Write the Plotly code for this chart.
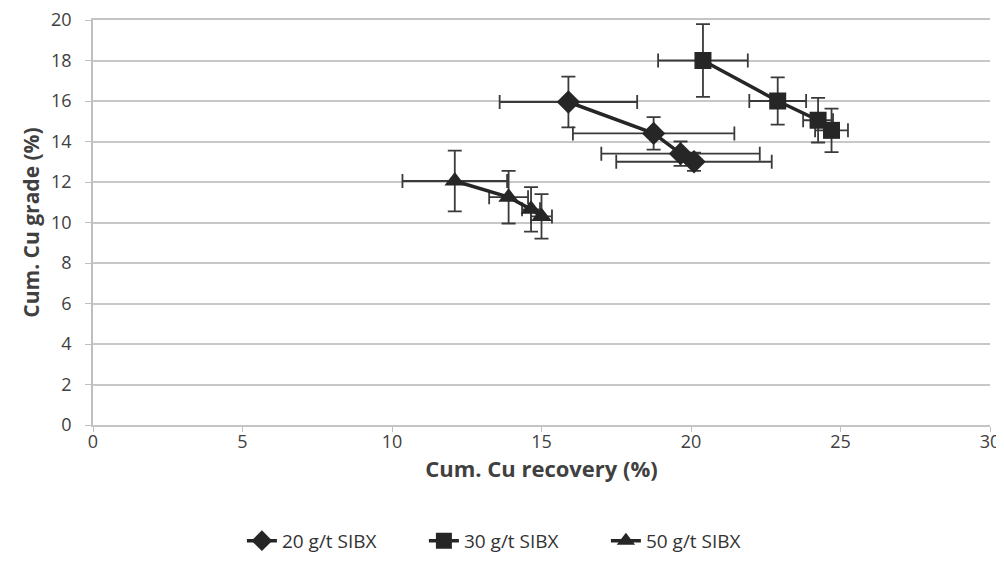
import plotly.graph_objects as go

# 20 g/t SIBX
rec_20 = [15.9, 18.75, 19.65, 20.1]
grade_20 = [15.95, 14.4, 13.4, 13.0]
rec_err_20 = [2.3, 2.7, 2.65, 2.6]
grade_err_20 = [1.25, 0.8, 0.6, 0.45]

# 30 g/t SIBX
rec_30 = [20.4, 22.9, 24.25, 24.7]
grade_30 = [18.0, 16.0, 15.05, 14.55]
rec_err_30 = [1.5, 0.95, 0.5, 0.55]
grade_err_30 = [1.8, 1.17, 1.1, 1.07]

# 50 g/t SIBX
rec_50 = [12.1, 13.9, 14.65, 15.0]
grade_50 = [12.05, 11.25, 10.65, 10.3]
rec_err_50 = [1.75, 0.65, 0.3, 0.35]
grade_err_50 = [1.5, 1.3, 1.1, 1.1]

series_names = ["20 g/t SIBX", "30 g/t SIBX", "50 g/t SIBX"]
x_ticks = [0, 5, 10, 15, 20, 25, 30]
y_ticks = [0, 2, 4, 6, 8, 10, 12, 14, 16, 18, 20]

dark = "#262626"
series = [
    (rec_20, grade_20, rec_err_20, grade_err_20, "diamond", 18),
    (rec_30, grade_30, rec_err_30, grade_err_30, "square", 17),
    (rec_50, grade_50, rec_err_50, grade_err_50, "triangle-up", 18),
]

fig = go.Figure()
for name, (x, y, ex, ey, sym, sz) in zip(series_names, series):
    fig.add_trace(go.Scatter(
        x=x, y=y, name=name, mode="lines+markers",
        line=dict(color=dark, width=3.5),
        marker=dict(symbol=sym, size=sz, color=dark),
        error_x=dict(type="data", array=ex, visible=True, color="#3a3a3a", thickness=1.8, width=7),
        error_y=dict(type="data", array=ey, visible=True, color="#3a3a3a", thickness=1.8, width=7),
    ))

font_family = "Open Sans, Liberation Sans, sans-serif"
fig.update_layout(
    width=996, height=574,
    margin=dict(l=85, r=14, t=12, b=157),
    paper_bgcolor="white", plot_bgcolor="white",
    font=dict(family=font_family, size=18, color="#404040"),
    showlegend=True,
    legend=dict(orientation="h", x=0.166, xanchor="left", y=-0.286, yanchor="middle",
                font=dict(size=19, color="#333333"), entrywidth=137, traceorder="normal"),
    xaxis=dict(
        range=[0, 30], tickvals=x_ticks, showgrid=False, zeroline=False, automargin=False,
        showline=True, linecolor="#c4c4c4", linewidth=1.5, ticklabeloverflow="allow",
        mirror=True,
        ticks="outside", ticklen=5, tickcolor="#bfbfbf", ticklabelstandoff=-5,
        tickfont=dict(size=18, color="#404040"),
        title=dict(text="<b>Cum. Cu recovery (%)</b>", font=dict(size=22, color="#404040"), standoff=0),
    ),
    yaxis=dict(
        range=[0, 20], tickvals=y_ticks, showgrid=True, gridcolor="#c8c8c8", gridwidth=1.5,
        zeroline=False, showline=True, linecolor="#bfbfbf", linewidth=1.5, automargin=False,
        ticklabeloverflow="allow",
        ticks="outside", ticklen=6, tickcolor="#bfbfbf", ticklabelstandoff=10,
        tickfont=dict(size=18, color="#404040"),
        title=dict(text="<b>Cum. Cu grade (%)</b>", font=dict(size=21, color="#404040"), standoff=6),
    ),
)

fig.write_html("out.html")
